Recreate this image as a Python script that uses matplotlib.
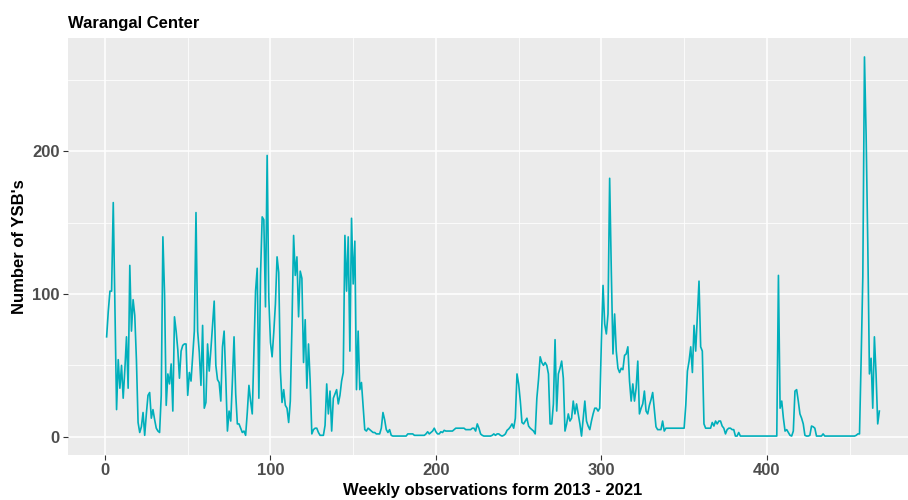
import numpy as np
import matplotlib
matplotlib.use('Agg')
import matplotlib.pyplot as plt
from matplotlib.ticker import MultipleLocator

plt.rcParams['font.family'] = ['Liberation Sans', 'DejaVu Sans']

# weekly YSB counts (Warangal), one value per week
ysb = [
    70, 88, 102, 102, 164, 92, 19, 54, 34, 50,
    27, 47, 70, 34, 120, 74, 96, 85, 54, 10,
    3, 7, 17, 1, 16, 29, 31, 13, 19, 12,
    6, 4, 3, 29, 140, 100, 22, 44, 37, 51,
    18, 84, 74, 61, 41, 60, 64, 65, 65, 29,
    45, 39, 56, 74, 157, 74, 59, 36, 78, 20,
    24, 65, 46, 61, 78, 95, 50, 40, 38, 25,
    63, 74, 41, 4, 18, 11, 39, 70, 30, 9,
    9, 6, 3, 4, 1, 17, 36, 25, 16, 59,
    102, 118, 27, 113, 154, 152, 91, 197, 98, 66,
    56, 73, 93, 126, 115, 46, 24, 33, 22, 20,
    10, 25, 78, 141, 113, 126, 84, 116, 111, 52,
    82, 34, 65, 39, 2, 5, 6, 6, 3, 1,
    1, 1, 8, 37, 16, 32, 4, 27, 30, 33,
    23, 29, 39, 45, 141, 102, 140, 60, 153, 107,
    137, 33, 74, 33, 38, 22, 5, 4, 6, 5,
    4, 3, 3, 2, 2, 2, 6, 17, 12, 5,
    3, 5, 1, 0.5, 0.5, 0.5, 0.5, 0.5, 0.5, 0.5,
    0.5, 0.5, 2, 2, 2, 2, 1, 1, 1, 1,
    1, 1, 1, 2, 3.5, 2, 3, 4, 6, 3.5,
    2, 2, 3.5, 3, 4.5, 4, 4, 4, 4, 4,
    5, 6, 6, 6, 6, 6, 6, 5, 5, 5,
    5, 6, 6, 4, 9, 6, 2, 1, 0.5, 0.5,
    0.5, 0.5, 0.5, 1, 2, 1, 2, 2, 1, 0.5,
    1, 2, 4.5, 5.5, 7, 9, 6, 13, 44, 37,
    25, 10, 9, 11, 13, 7.5, 6, 5, 4, 2,
    27, 40, 56, 52, 50, 52, 50, 44, 9, 9,
    23, 68, 18, 44, 48, 53, 41, 4, 9, 16,
    11, 13, 25, 16, 23, 16, 9, 0.5, 13, 25,
    11, 7.5, 5, 11, 16, 20, 20, 18, 20, 67,
    106, 79, 72, 86, 181, 116, 58, 86, 60, 48,
    45, 48, 47, 57, 58, 63, 39, 25, 37, 25,
    34, 53, 16, 20, 23, 32, 18, 16, 22, 26,
    31, 19, 7, 5, 5, 5, 11, 4, 6, 6,
    6, 6, 6, 6, 6, 6, 6, 6, 6, 6,
    22, 46, 53, 63, 45, 78, 60, 84, 109, 63,
    60, 9, 6, 6, 6, 6, 10, 7.5, 11, 9,
    11, 11, 7.5, 6, 2, 5, 6, 6, 5, 5,
    0.5, 0.5, 3, 0.5, 0.5, 0.5, 0.5, 0.5, 0.5, 0.5,
    0.5, 0.5, 0.5, 0.5, 0.5, 0.5, 0.5, 0.5, 0.5, 0.5,
    0.5, 0.5, 0.5, 0.5, 0.5, 0.5, 113, 20, 25, 13,
    4, 5, 3, 1, 0.5, 4, 32, 33, 25, 16,
    13, 9, 1, 0.5, 0.5, 1, 7.5, 7, 6, 0.5,
    0.5, 0.5, 0.5, 2, 0.5, 0.5, 0.5, 0.5, 0.5, 0.5,
    0.5, 0.5, 0.5, 0.5, 0.5, 0.5, 0.5, 0.5, 0.5, 0.5,
    0.5, 0.5, 0.5, 1, 2, 2, 55, 112, 266, 211,
    135, 44, 55, 20, 70, 44, 9, 18,
]
weeks = np.arange(1, len(ysb) + 1)

x_ticks = [0, 100, 200, 300, 400]
y_ticks = [0, 100, 200]

title = "Warangal Center"
x_title = "Weekly observations form 2013 - 2021"
y_title = "Number of YSB's"

fig = plt.figure(figsize=(9.08, 5.0), dpi=100)
# panel runs a bit past the right edge, like the cropped original
ax = fig.add_axes([68 / 908, 45 / 500, 850 / 908, 417 / 500])
ax.set_facecolor('#EBEBEB')

ax.plot(weeks, ysb, color='#00AFBB', linewidth=1.2, zorder=3)

# ggplot-style 5% expansion
xpad = 0.05 * (weeks.max() - weeks.min())
ypad = 0.05 * (max(ysb) - min(ysb))
ax.set_xlim(weeks.min() - xpad, weeks.max() + xpad)
ax.set_ylim(min(ysb) - ypad, max(ysb) + ypad)

ax.set_xticks(x_ticks)
ax.set_yticks(y_ticks)
ax.xaxis.set_minor_locator(MultipleLocator(50))
ax.yaxis.set_minor_locator(MultipleLocator(50))
ax.grid(which='major', color='white', linewidth=1.1)
ax.grid(which='minor', color='white', linewidth=0.55)
ax.set_axisbelow(True)
for s in ax.spines.values():
    s.set_visible(False)

ax.tick_params(which='major', length=3.5, width=0.8, color='#333333',
               labelsize=12, labelcolor='#4D4D4D', pad=2.5)
ax.tick_params(which='minor', length=0)
for lab in ax.get_xticklabels() + ax.get_yticklabels():
    lab.set_fontweight('bold')

ax.set_xlabel(x_title, fontsize=12, fontweight='bold', labelpad=3)
ax.set_ylabel(y_title, fontsize=12, fontweight='bold', labelpad=4)

fig.text(68 / 908, 1 - 28 / 500, title, fontsize=12, fontweight='bold',
         ha='left', va='baseline')

fig.savefig('out.png', dpi=100)
